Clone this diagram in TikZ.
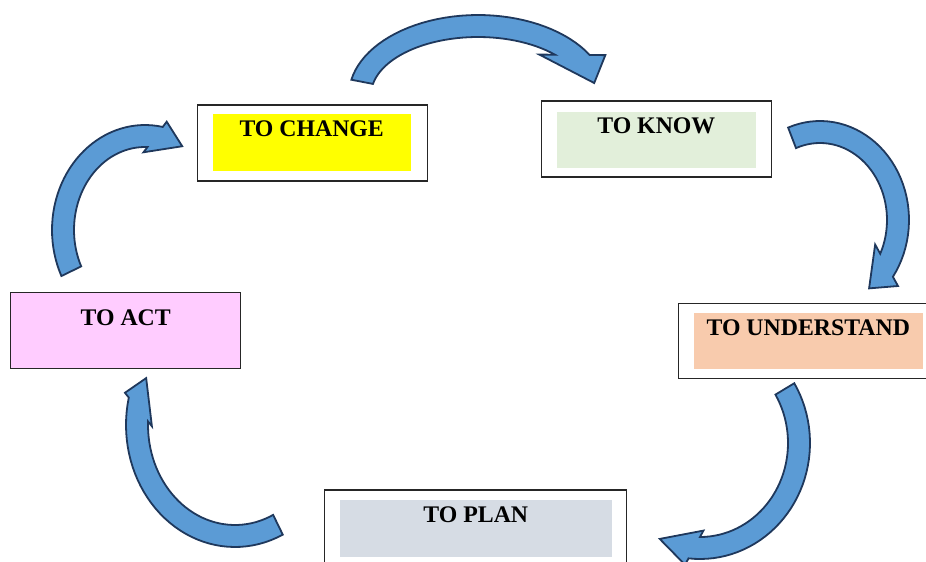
\documentclass[tikz,border=0pt]{standalone}
\usepackage{fontspec}
\setmainfont{Liberation Serif}
\usepackage{xcolor}
\usepackage{tikz}
\usetikzlibrary{calc}

% half width of the arrow band
\newcommand{\bandw}{11}
% curved block arrow on an ellipse:
% centre x, centre y, x radius, y radius, start angle,
% outer end angle, inner end angle, tip angle, barb factor
\newcommand{\cyclearrow}[9]{%
  \pgfmathsetmacro\outrx{#3+\bandw}%
  \pgfmathsetmacro\outry{#4+\bandw}%
  \pgfmathsetmacro\inrx{#3-\bandw}%
  \pgfmathsetmacro\inry{#4-\bandw}%
  \coordinate (oe) at ({#1+\outrx*cos(#6)},{#2+\outry*sin(#6)});
  \coordinate (ie) at ({#1+\inrx*cos(#7)},{#2+\inry*sin(#7)});
  \coordinate (tip) at ({#1+#3*cos(#8)},{#2+#4*sin(#8)});
  \draw[blockarrow]
    plot[domain=#5:#6, samples=40] ({#1+\outrx*cos(\x)},{#2+\outry*sin(\x)})
    -- ($(ie)!#9!(oe)$) -- (tip) -- ($(oe)!#9!(ie)$)
    -- plot[domain=#7:#5, samples=40] ({#1+\inrx*cos(\x)},{#2+\inry*sin(\x)})
    -- cycle;
}

\begin{document}
\begin{tikzpicture}[
      x=1pt, y=-1pt,
      outerbox/.style={rectangle, draw=black!85, line width=1.2pt, fill=white,
        minimum width=230pt, minimum height=76pt, inner sep=0pt},
      innerbox/.style={rectangle, minimum width=198pt, minimum height=56.5pt, inner sep=0pt},
      lbl/.style={font=\fontsize{23.8}{28}\selectfont\bfseries, anchor=base, inner sep=0pt},
      blockarrow/.style={fill=arrowblue, draw=arrowedge, line width=1.8pt, line join=miter},
    ]
    \definecolor{arrowblue}{RGB}{91,155,213}
    \definecolor{arrowedge}{RGB}{31,56,92}
    \definecolor{chgyellow}{RGB}{255,255,0}
    \definecolor{knowgreen}{RGB}{226,239,218}
    \definecolor{undpeach}{RGB}{248,203,173}
    \definecolor{plangray}{RGB}{214,220,228}
    \definecolor{actpink}{RGB}{255,204,255}

    \useasboundingbox (0,0) rectangle (926,562);
    \clip (0,0) rectangle (926,562);

    \node[outerbox] (change) at (312.3,143) {};
    \node[innerbox, fill=chgyellow] (changein) at (311.7,142.3) {};
    \node[lbl, yshift=-23pt] (changetxt) at (changein.north) {TO CHANGE};

    \node[outerbox] (know) at (656.7,139) {};
    \node[innerbox, fill=knowgreen, minimum width=198.7pt] (knowin) at (656.3,140) {};
    \node[lbl, yshift=-22.4pt] (knowtxt) at (knowin.north) {TO KNOW};

    \node[outerbox, minimum width=260.4pt, minimum height=75pt] (understand) at (808.5,340.8) {};
    \node[innerbox, fill=undpeach, minimum width=228.7pt, minimum height=55.7pt] (understandin) at (808.3,341.2) {};
    \node[lbl, yshift=-22.4pt] (understandtxt) at (understandin.north) {TO UNDERSTAND};

    \node[outerbox, minimum width=302.4pt, minimum height=77pt] (plan) at (475.5,528.5) {};
    \node[innerbox, fill=plangray, minimum width=271.7pt, minimum height=56.7pt] (planin) at (475.8,528.3) {};
    \node[lbl, yshift=-22.7pt] (plantxt) at (planin.north) {TO PLAN};

    \node[outerbox, fill=actpink] (act) at (125.7,330.3) {};
    \node[lbl, yshift=-33.4pt] (acttxt) at (act.north) {TO ACT};

    \cyclearrow{478}{95}{118}{69}{191}{330}{316}{350}{1.45}
    \cyclearrow{820}{220}{78}{88}{249}{395}{386}{411}{1.4}
    \cyclearrow{700}{443}{99}{105}{-31}{96}{90}{114}{1.3}
    \cyclearrow{235}{425}{98}{111}{64}{193}{182}{205}{1.2}
    \cyclearrow{145}{230}{82}{94}{154}{281}{272}{297}{1.26}
  \end{tikzpicture}
\end{document}
